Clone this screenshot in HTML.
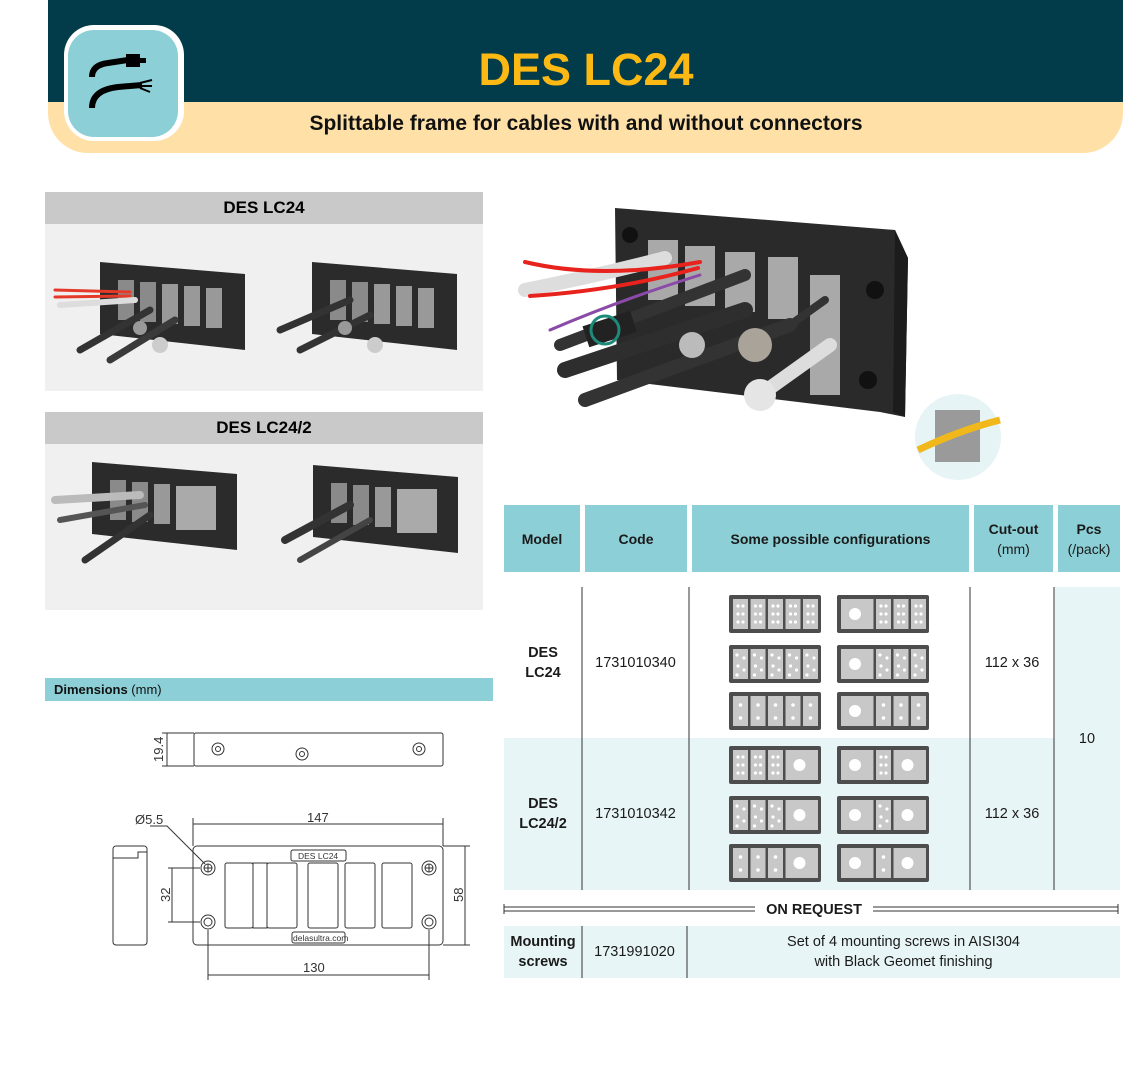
<!DOCTYPE html>
<html><head><meta charset="utf-8"><style>
*{margin:0;padding:0;box-sizing:border-box}
body{width:1148px;height:1075px;background:#fff;position:relative;overflow:hidden;font-family:"Liberation Sans",sans-serif}
.a{position:absolute}
.c{display:flex;align-items:center;justify-content:center;text-align:center}
.hd{background:#8ccfd6;font-weight:bold;font-size:14px;color:#1a1a1a;line-height:20px}
.t{font-size:14.5px;color:#1a1a1a;line-height:20px}
</style></head><body>
<!-- header -->
<div class="a" style="left:48px;top:0;width:1075px;height:153px;background:#ffe1a8;border-radius:0 0 40px 40px"></div>
<div class="a" style="left:48px;top:0;width:1075px;height:102px;background:#023c4a"></div>
<div class="a" style="left:64px;top:25px;width:120px;height:116px;background:#fff;border-radius:30px"></div>
<div class="a" style="left:68px;top:30px;width:110px;height:107px;background:#8ccfd6;border-radius:26px"></div>
<svg class="a" style="left:68px;top:30px" width="110" height="107">
<path d="M24 47 Q24 35 40 33 L60 30" stroke="#000" stroke-width="6" fill="none"/>
<rect x="58" y="24" width="14" height="13" fill="#000"/><rect x="72" y="28" width="6" height="5" fill="#000"/>
<path d="M24 78 Q24 60 50 57 L74 55" stroke="#000" stroke-width="6" fill="none"/>
<path d="M72 53 L84 50 M72 56 L84 56 M72 58 L82 62" stroke="#000" stroke-width="2"/>
</svg>
<div class="a c" style="left:380px;top:40px;width:412px;height:60px;color:#fdb913;font-weight:bold;font-size:45px">DES LC24</div>
<div class="a c" style="left:240px;top:110px;width:692px;height:28px;font-weight:bold;font-size:21px;color:#111">Splittable frame for cables with and without connectors</div>

<!-- left panels -->
<div class="a c" style="left:45px;top:192px;width:438px;height:32px;background:#c9c9c9;font-weight:bold;font-size:17px">DES LC24</div>
<div class="a" style="left:45px;top:224px;width:438px;height:167px;background:#f0f0f0"></div>
<div class="a c" style="left:45px;top:412px;width:438px;height:32px;background:#c9c9c9;font-weight:bold;font-size:17px">DES LC24/2</div>
<div class="a" style="left:45px;top:444px;width:438px;height:166px;background:#f0f0f0"></div>
<div class="a" style="left:45px;top:678px;width:448px;height:23px;background:#8ccfd6;font-size:13px;line-height:23px;padding-left:9px;color:#111"><b>Dimensions</b> (mm)</div>

<svg class="a" style="left:0;top:0" width="1148" height="1075">
<defs>
<g id="fr"><polygon points="0,0 145,12 145,88 0,72" fill="#2b2b2b"/>
<rect x="18" y="18" width="16" height="40" fill="#8a8a8a"/><rect x="40" y="20" width="16" height="40" fill="#8a8a8a"/><rect x="62" y="22" width="16" height="40" fill="#999"/><rect x="84" y="24" width="16" height="40" fill="#999"/><rect x="106" y="26" width="16" height="40" fill="#999"/></g>
<g id="fr2"><polygon points="0,0 145,12 145,88 0,72" fill="#2b2b2b"/>
<rect x="18" y="18" width="16" height="40" fill="#8a8a8a"/><rect x="40" y="20" width="16" height="40" fill="#8a8a8a"/><rect x="62" y="22" width="16" height="40" fill="#999"/><rect x="84" y="24" width="40" height="44" fill="#aaa"/></g>
<g id="A" fill="#fff"><circle cx="5" cy="7" r="1.6"/><circle cx="10" cy="7" r="1.6"/><circle cx="5" cy="15" r="1.6"/><circle cx="10" cy="15" r="1.6"/><circle cx="5" cy="23" r="1.6"/><circle cx="10" cy="23" r="1.6"/></g>
<g id="B" fill="#fff"><circle cx="4" cy="6" r="1.6"/><circle cx="11" cy="9" r="1.6"/><circle cx="5" cy="17" r="1.6"/><circle cx="11" cy="21" r="1.6"/><circle cx="4" cy="26" r="1.6"/></g>
<g id="C" fill="#fff"><circle cx="7.5" cy="9" r="1.8"/><circle cx="7.5" cy="22" r="1.8"/></g>
<rect id="fb" width="92" height="38" rx="2" fill="#4d4d4d"/>
<rect id="s" width="15" height="30" fill="#c8c8c8"/>
<g id="O"><rect width="32.5" height="30" fill="#c8c8c8"/><circle cx="14" cy="15" r="6" fill="#fff"/></g>
</defs>
<!-- left photos -->
<g stroke-linecap="round">
<use href="#fr" x="100" y="262"/>
<path d="M55 290 L130 292" stroke="#e53a2a" stroke-width="3"/><path d="M55 297 L130 296" stroke="#e53a2a" stroke-width="3"/>
<path d="M60 305 L135 300" stroke="#ddd" stroke-width="6"/>
<path d="M80 350 L150 310" stroke="#333" stroke-width="7"/><path d="M110 360 L175 320" stroke="#3a3a3a" stroke-width="7"/>
<circle cx="140" cy="328" r="7" fill="#999"/><circle cx="160" cy="345" r="8" fill="#ccc"/>
<use href="#fr" x="312" y="262"/>
<path d="M280 330 L350 300" stroke="#333" stroke-width="7"/><path d="M300 350 L370 315" stroke="#333" stroke-width="7"/>
<circle cx="345" cy="328" r="7" fill="#999"/><circle cx="375" cy="345" r="8" fill="#ccc"/>
<use href="#fr2" x="92" y="462"/>
<path d="M55 500 L140 495" stroke="#bbb" stroke-width="8"/><path d="M60 520 L145 505" stroke="#555" stroke-width="6"/>
<path d="M85 560 L150 515" stroke="#333" stroke-width="7"/>
<use href="#fr2" x="313" y="465"/>
<path d="M285 540 L350 505" stroke="#333" stroke-width="8"/><path d="M300 560 L370 520" stroke="#444" stroke-width="6"/>
</g>
<!-- big photo -->
<polygon points="615,208 895,230 908,258 905,417 880,412 617,380" fill="#2a2a2a"/>
<polygon points="895,230 908,258 905,417 893,412" fill="#1c1c1c"/>
<g fill="#a9a9a9"><rect x="648" y="240" width="30" height="60"/><rect x="685" y="246" width="30" height="60"/><rect x="725" y="252" width="30" height="60"/><rect x="768" y="257" width="30" height="62"/><rect x="810" y="275" width="30" height="120"/></g>
<circle cx="630" cy="235" r="8" fill="#111"/><circle cx="875" cy="290" r="9" fill="#111"/><circle cx="868" cy="380" r="9" fill="#111"/>
<g stroke-linecap="round" fill="none">
<path d="M525 290 Q600 275 665 258" stroke="#ddd" stroke-width="14"/>
<path d="M525 262 Q600 280 700 262" stroke="#e8221c" stroke-width="4"/>
<path d="M530 296 Q620 290 698 268" stroke="#e8221c" stroke-width="4"/>
<path d="M550 330 Q620 300 700 275" stroke="#8a4aa8" stroke-width="3"/>
<path d="M560 345 L745 275" stroke="#333" stroke-width="12"/>
<path d="M565 370 L745 310" stroke="#2e2e2e" stroke-width="16"/>
<path d="M585 400 L790 325" stroke="#333" stroke-width="14"/>
<path d="M790 325 L825 300" stroke="#333" stroke-width="8"/>
<path d="M760 395 L830 345" stroke="#ddd" stroke-width="14"/>
</g>
<rect x="585" y="318" width="50" height="22" fill="#222" transform="rotate(-18 610 330)"/>
<circle cx="605" cy="330" r="14" fill="none" stroke="#1d8a7a" stroke-width="3"/>
<circle cx="692" cy="345" r="13" fill="#bbb"/><circle cx="755" cy="345" r="17" fill="#a9a39a"/>
<circle cx="760" cy="395" r="16" fill="#e5e5e5"/>
<circle cx="958" cy="437" r="43" fill="#e6f4f6"/>
<rect x="935" y="410" width="45" height="52" fill="#9a9a9a"/>
<path d="M918 450 Q960 430 1000 420" stroke="#f0b81a" stroke-width="7" fill="none"/>
<!-- dimension drawing -->
<g stroke="#333" fill="none" stroke-width="1">
<rect x="194" y="733" width="249" height="33" rx="2"/>
<circle cx="218" cy="749" r="6"/><circle cx="218" cy="749" r="2.5"/>
<circle cx="302" cy="754" r="6"/><circle cx="302" cy="754" r="2.5"/>
<circle cx="419" cy="749" r="6"/><circle cx="419" cy="749" r="2.5"/>
<path d="M167 733 V766 M162 733 H194 M162 766 H194"/>
<rect x="113" y="846" width="34" height="99" rx="3"/><path d="M113 858 H138 V852 H147"/>
<rect x="193" y="846" width="250" height="99" rx="4"/>
<rect x="225" y="863" width="28" height="65" rx="2"/><rect x="253" y="863" width="14" height="65"/><rect x="267" y="863" width="30" height="65" rx="2"/>
<rect x="308" y="863" width="30" height="65" rx="2"/><rect x="345" y="863" width="30" height="65" rx="2"/><rect x="382" y="863" width="30" height="65" rx="2"/>
<g><circle cx="208" cy="868" r="7"/><circle cx="208" cy="868" r="4"/><circle cx="208" cy="922" r="7"/><circle cx="208" cy="922" r="4"/>
<circle cx="429" cy="868" r="7"/><circle cx="429" cy="868" r="4"/><circle cx="429" cy="922" r="7"/><circle cx="429" cy="922" r="4"/></g>
<path d="M204 868 H212 M208 864 V872 M425 868 H433 M429 864 V872"/>
<rect x="291" y="850" width="55" height="11" rx="2"/><rect x="292" y="932" width="53" height="11" rx="2"/>
<path d="M193 824 H443 M193 818 V846 M443 818 V846"/>
<path d="M465 846 V945 M443 846 H470 M443 945 H470"/>
<path d="M172 868 V922 M168 868 H200 M168 922 H200"/>
<path d="M208 930 V980 M429 930 V980 M208 975 H429"/>
<path d="M150 826 L167 826 L205 864"/>
</g>
<g fill="#333" font-family="Liberation Sans" font-size="13">
<text x="307" y="822">147</text>
<text x="303" y="972">130</text>
<text x="135" y="824">Ø5.5</text>
<text transform="translate(163 762) rotate(-90)">19.4</text>
<text transform="translate(170 902) rotate(-90)">32</text>
<text transform="translate(463 902) rotate(-90)">58</text>
<text x="298" y="859" font-size="8.5">DES LC24</text>
<text x="293" y="941" font-size="8.5">delasultra.com</text>
</g>
<!-- table -->
<rect x="504" y="587" width="616" height="151" fill="#fff"/>
<rect x="504" y="738" width="616" height="152" fill="#e8f5f6"/>
<rect x="1055" y="587" width="65" height="303" fill="#e8f5f6"/>
<rect x="504" y="926" width="616" height="52" fill="#e8f5f6"/>
<g stroke="#333" stroke-width="1"><path d="M582 587 V890 M689 587 V890 M970 587 V890 M1054 587 V890 M582 926 V978 M687 926 V978"/></g>
<g stroke="#333"><path d="M504 907 H755 M504 911 H755 M873 907 H1118 M873 911 H1118 M504 904 V914 M1118 904 V914"/></g>
<!-- icons left -->
<g transform="translate(729 595)"><use href="#fb"/><g transform="translate(4 4)"><use href="#s"/><use href="#A"/><g transform="translate(17.5 0)"><use href="#s"/><use href="#A"/></g><g transform="translate(35 0)"><use href="#s"/><use href="#A"/></g><g transform="translate(52.5 0)"><use href="#s"/><use href="#A"/></g><g transform="translate(70 0)"><use href="#s"/><use href="#A"/></g></g></g>
<g transform="translate(729 645)"><use href="#fb"/><g transform="translate(4 4)"><use href="#s"/><use href="#B"/><g transform="translate(17.5 0)"><use href="#s"/><use href="#B"/></g><g transform="translate(35 0)"><use href="#s"/><use href="#B"/></g><g transform="translate(52.5 0)"><use href="#s"/><use href="#B"/></g><g transform="translate(70 0)"><use href="#s"/><use href="#B"/></g></g></g>
<g transform="translate(729 692)"><use href="#fb"/><g transform="translate(4 4)"><use href="#s"/><use href="#C"/><g transform="translate(17.5 0)"><use href="#s"/><use href="#C"/></g><g transform="translate(35 0)"><use href="#s"/><use href="#C"/></g><g transform="translate(52.5 0)"><use href="#s"/><use href="#C"/></g><g transform="translate(70 0)"><use href="#s"/><use href="#C"/></g></g></g>
<g transform="translate(729 746)"><use href="#fb"/><g transform="translate(4 4)"><use href="#s"/><use href="#A"/><g transform="translate(17.5 0)"><use href="#s"/><use href="#A"/></g><g transform="translate(35 0)"><use href="#s"/><use href="#A"/></g><g transform="translate(52.5 0)"><use href="#O"/></g></g></g>
<g transform="translate(729 796)"><use href="#fb"/><g transform="translate(4 4)"><use href="#s"/><use href="#B"/><g transform="translate(17.5 0)"><use href="#s"/><use href="#B"/></g><g transform="translate(35 0)"><use href="#s"/><use href="#B"/></g><g transform="translate(52.5 0)"><use href="#O"/></g></g></g>
<g transform="translate(729 844)"><use href="#fb"/><g transform="translate(4 4)"><use href="#s"/><use href="#C"/><g transform="translate(17.5 0)"><use href="#s"/><use href="#C"/></g><g transform="translate(35 0)"><use href="#s"/><use href="#C"/></g><g transform="translate(52.5 0)"><use href="#O"/></g></g></g>
<!-- icons right -->
<g transform="translate(837 595)"><use href="#fb"/><g transform="translate(4 4)"><use href="#O"/><g transform="translate(35 0)"><use href="#s"/><use href="#A"/></g><g transform="translate(52.5 0)"><use href="#s"/><use href="#A"/></g><g transform="translate(70 0)"><use href="#s"/><use href="#A"/></g></g></g>
<g transform="translate(837 645)"><use href="#fb"/><g transform="translate(4 4)"><use href="#O"/><g transform="translate(35 0)"><use href="#s"/><use href="#B"/></g><g transform="translate(52.5 0)"><use href="#s"/><use href="#B"/></g><g transform="translate(70 0)"><use href="#s"/><use href="#B"/></g></g></g>
<g transform="translate(837 692)"><use href="#fb"/><g transform="translate(4 4)"><use href="#O"/><g transform="translate(35 0)"><use href="#s"/><use href="#C"/></g><g transform="translate(52.5 0)"><use href="#s"/><use href="#C"/></g><g transform="translate(70 0)"><use href="#s"/><use href="#C"/></g></g></g>
<g transform="translate(837 746)"><use href="#fb"/><g transform="translate(4 4)"><use href="#O"/><g transform="translate(35 0)"><use href="#s"/><use href="#A"/></g><g transform="translate(52.5 0)"><use href="#O"/></g></g></g>
<g transform="translate(837 796)"><use href="#fb"/><g transform="translate(4 4)"><use href="#O"/><g transform="translate(35 0)"><use href="#s"/><use href="#B"/></g><g transform="translate(52.5 0)"><use href="#O"/></g></g></g>
<g transform="translate(837 844)"><use href="#fb"/><g transform="translate(4 4)"><use href="#O"/><g transform="translate(35 0)"><use href="#s"/><use href="#C"/></g><g transform="translate(52.5 0)"><use href="#O"/></g></g></g>
</svg>

<!-- table header -->
<div class="a c hd" style="left:504px;top:505px;width:76px;height:67px">Model</div>
<div class="a c hd" style="left:585px;top:505px;width:102px;height:67px">Code</div>
<div class="a c hd" style="left:692px;top:505px;width:277px;height:67px">Some possible configurations</div>
<div class="a c hd" style="left:974px;top:505px;width:79px;height:67px"><div>Cut-out<br><span style="font-weight:normal">(mm)</span></div></div>
<div class="a c hd" style="left:1058px;top:505px;width:62px;height:67px"><div>Pcs<br><span style="font-weight:normal">(/pack)</span></div></div>
<!-- rows -->
<div class="a c t" style="left:504px;top:587px;width:78px;height:151px;font-weight:bold"><div>DES<br>LC24</div></div>
<div class="a c t" style="left:582px;top:587px;width:107px;height:151px">1731010340</div>
<div class="a c t" style="left:970px;top:587px;width:84px;height:151px">112 x 36</div>
<div class="a c t" style="left:504px;top:738px;width:78px;height:152px;font-weight:bold"><div>DES<br>LC24/2</div></div>
<div class="a c t" style="left:582px;top:738px;width:107px;height:152px">1731010342</div>
<div class="a c t" style="left:970px;top:738px;width:84px;height:152px">112 x 36</div>
<div class="a c t" style="left:1054px;top:587px;width:66px;height:303px">10</div>
<div class="a c t" style="left:755px;top:899px;width:118px;height:22px;font-weight:bold">ON REQUEST</div>
<div class="a c t" style="left:504px;top:926px;width:78px;height:52px;font-weight:bold"><div>Mounting<br>screws</div></div>
<div class="a c t" style="left:582px;top:926px;width:105px;height:52px">1731991020</div>
<div class="a c t" style="left:687px;top:926px;width:433px;height:52px"><div>Set of 4 mounting screws in AISI304<br>with Black Geomet finishing</div></div>
</body></html>
